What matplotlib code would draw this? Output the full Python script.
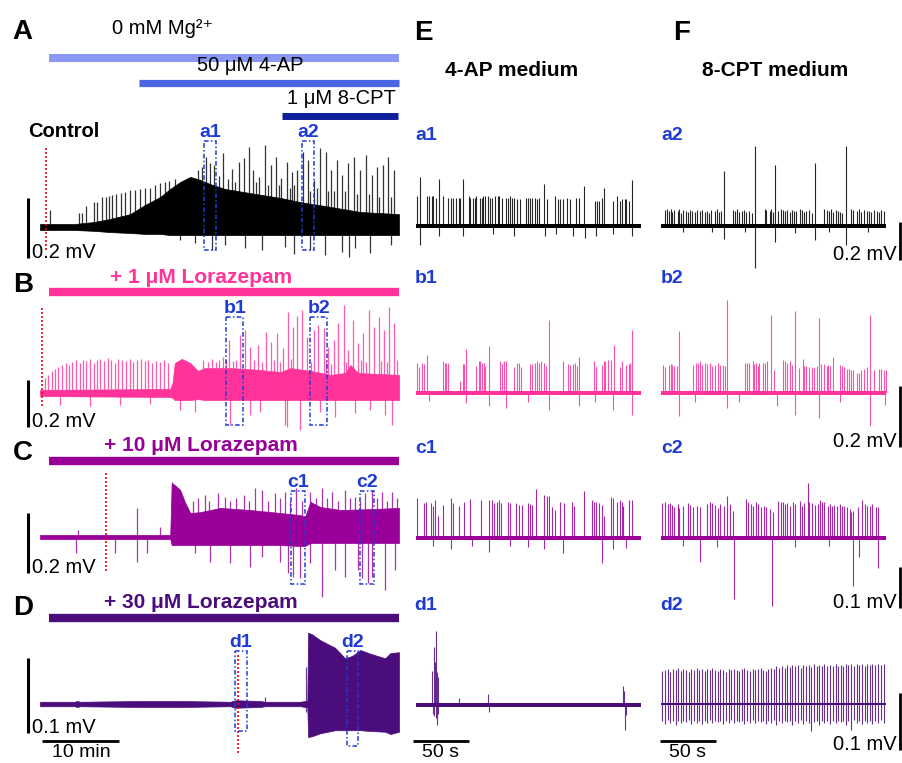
import matplotlib
matplotlib.use("Agg")
import matplotlib.pyplot as plt
from matplotlib import transforms
from matplotlib.patches import Rectangle

W, H = 902, 763

plt.rcParams["font.family"] = ["Liberation Sans", "DejaVu Sans"]

# Colours ----------------------------------------------------------------------
C_A = "#000000"
C_B = "#ff3399"
C_C = "#990099"
C_D = "#4b0c7c"
BLUE = "#1f3bd6"
RED = "#e8000b"
MG = "#8a98f2"
AP = "#4c66e3"
CPT = "#0d1f99"

# Main traces: (time min, upper mV, lower mV) envelopes + spikes (time min, mV) --

A_env = [(0, 0.01, -0.01), (4.5, 0.01, -0.01), (7.1, 0.017, -0.013), (9.1, 0.027, -0.017),
         (11.7, 0.043, -0.02), (13.6, 0.073, -0.023), (15.6, 0.1, -0.023), (16.9, 0.127, -0.027),
         (18.2, 0.15, -0.027), (19.5, 0.167, -0.027), (20.8, 0.157, -0.027), (22.1, 0.143, -0.027),
         (24.0, 0.127, -0.027), (27.3, 0.113, -0.027), (31.2, 0.097, -0.027), (33.8, 0.083, -0.027),
         (37.7, 0.067, -0.027), (41.6, 0.05, -0.027), (46.6, 0.043, -0.027)]
A_spikes = [(1.3, 0.057), (5.1, 0.047), (5.5, 0.047), (6.0, 0.07), (7.0, 0.083), (7.4, 0.083),
            (8.1, 0.1), (8.6, 0.1), (9.0, 0.103), (9.4, 0.107), (9.9, 0.11), (10.5, 0.113),
            (11.0, 0.117), (11.7, 0.123), (12.3, 0.123), (13.0, 0.127), (13.6, 0.13), (14.3, 0.13),
            (14.9, 0.14), (15.6, 0.147), (16.2, 0.15), (16.8, 0.155), (17.5, 0.16),
            (20.5, 0.19), (21.0, 0.2), (21.6, 0.233), (22.1, 0.213), (22.6, 0.207), (23.2, 0.17),
            (23.8, 0.247), (24.4, 0.16), (24.9, 0.193), (25.3, 0.15), (25.8, 0.217), (26.5, 0.23),
            (27.1, 0.267), (27.7, 0.19), (28.0, 0.15), (28.4, 0.167), (29.2, 0.273), (29.6, 0.14),
            (30.0, 0.207), (30.6, 0.233), (31.0, 0.14), (31.3, 0.163), (32.1, 0.217), (32.4, 0.13),
            (32.7, 0.183), (33.0, 0.14), (33.4, 0.19), (34.2, 0.25), (34.8, 0.223), (35.0, 0.12),
            (35.6, 0.157), (36.0, 0.13), (36.4, 0.263), (37.1, 0.25), (37.4, 0.12), (37.8, 0.19),
            (38.2, 0.12), (38.6, 0.223), (39.2, 0.173), (39.6, 0.12), (40.0, 0.213), (40.8, 0.233),
            (41.2, 0.11), (41.6, 0.19), (42.3, 0.24), (42.7, 0.11), (43.1, 0.173), (43.8, 0.2),
            (44.0, 0.1), (44.5, 0.207), (45.2, 0.233), (45.6, 0.1), (46.0, 0.19)]
A_negs = [(18.2, -0.043), (20.1, -0.053), (22.3, -0.077), (24.0, -0.06), (26.6, -0.07),
          (28.8, -0.077), (31.8, -0.067), (33.0, -0.09), (35.1, -0.077), (37.0, -0.093),
          (39.2, -0.083), (40.1, -0.1), (40.9, -0.07), (42.9, -0.087), (45.5, -0.06)]

B_env = [(0, 0.013, -0.013), (16.9, 0.017, -0.017), (17.2, 0.043, -0.021), (17.5, 0.128, -0.03),
         (18.4, 0.145, -0.03), (19.5, 0.128, -0.03), (20.5, 0.094, -0.026), (21.4, 0.106, -0.03),
         (24.7, 0.106, -0.03), (28.6, 0.098, -0.03), (31.2, 0.089, -0.03), (32.5, 0.106, -0.03),
         (35.1, 0.094, -0.03), (37.7, 0.077, -0.03), (39.6, 0.085, -0.03), (40.3, 0.119, -0.03),
         (41.3, 0.085, -0.03), (46.6, 0.077, -0.03)]
B_spikes = [(0.6, 0.064), (1.0, 0.077), (1.6, 0.094), (1.9, 0.102), (2.3, 0.111), (2.9, 0.119),
            (3.4, 0.128), (3.8, 0.119), (4.2, 0.132), (4.7, 0.14), (5.2, 0.128), (5.6, 0.14),
            (6.0, 0.136), (6.5, 0.145), (7.0, 0.128), (7.4, 0.14), (7.8, 0.145), (8.3, 0.136),
            (8.8, 0.149), (9.2, 0.14), (9.7, 0.128), (10.1, 0.145), (10.6, 0.14), (11.2, 0.136),
            (11.7, 0.145), (12.1, 0.132), (12.6, 0.14), (13.1, 0.145), (13.6, 0.136), (14.0, 0.14),
            (14.6, 0.128), (15.1, 0.136), (15.6, 0.132), (16.1, 0.14), (16.6, 0.128),
            (21.2, 0.14), (21.8, 0.13), (22.3, 0.145), (22.9, 0.13), (23.2, 0.14), (23.8, 0.153),
            (24.2, 0.14), (24.5, 0.226), (25.1, 0.135), (25.5, 0.14), (26.0, 0.247), (26.6, 0.268),
            (27.3, 0.196), (27.8, 0.14), (28.3, 0.204), (28.8, 0.13), (29.4, 0.26), (30.0, 0.217),
            (30.4, 0.14), (30.8, 0.255), (31.2, 0.13), (31.6, 0.191), (32.2, 0.345), (32.6, 0.145),
            (32.9, 0.281), (33.4, 0.328), (34.0, 0.353), (34.7, 0.238), (35.2, 0.13), (35.6, 0.268),
            (36.1, 0.289), (36.8, 0.277), (37.1, 0.14), (37.4, 0.196), (37.8, 0.125), (38.1, 0.226),
            (38.7, 0.298), (39.4, 0.374), (39.7, 0.13), (40.0, 0.183), (40.6, 0.311), (41.3, 0.213),
            (41.7, 0.14), (41.9, 0.255), (42.3, 0.13), (42.7, 0.353), (43.4, 0.281), (44.0, 0.323),
            (44.2, 0.135), (44.7, 0.268), (45.0, 0.13), (45.3, 0.366), (46.0, 0.298), (46.3, 0.14)]
B_negs = [(2.6, -0.051), (6.5, -0.055), (10.4, -0.051), (14.3, -0.047), (18.2, -0.072),
          (20.1, -0.081), (24.7, -0.136), (27.3, -0.094), (28.6, -0.081), (31.8, -0.136),
          (32.1, -0.145), (33.8, -0.157), (36.4, -0.081), (38.3, -0.102), (40.9, -0.085),
          (42.9, -0.072), (44.8, -0.094), (45.7, -0.136)]

C_env = [(0, 0.007, -0.007), (16.9, 0.007, -0.007), (17.1, 0.18, -0.027), (17.5, 0.173, -0.027),
         (18.2, 0.157, -0.027), (18.8, 0.117, -0.027), (19.5, 0.08, -0.027), (20.8, 0.083, -0.027),
         (23.4, 0.097, -0.027), (27.3, 0.09, -0.027), (31.2, 0.08, -0.027), (33.8, 0.073, -0.03),
         (34.4, 0.067, -0.03), (35.1, 0.117, -0.02), (36.4, 0.1, -0.02), (39.0, 0.09, -0.02),
         (42.9, 0.093, -0.02), (46.6, 0.097, -0.02)]
C_spikes = [(4.9, 0.023), (12.6, 0.097), (15.6, 0.033), (17.1, 0.183), (19.9, 0.12), (20.5, 0.13),
            (21.4, 0.14), (21.9, 0.12), (23.1, 0.147), (24.0, 0.133), (24.7, 0.12), (25.5, 0.13),
            (26.5, 0.14), (27.1, 0.12), (27.9, 0.163), (28.8, 0.157), (29.6, 0.12), (30.5, 0.147),
            (31.2, 0.13), (31.8, 0.15), (32.5, 0.12), (33.2, 0.163), (34.0, 0.12), (35.1, 0.15),
            (35.8, 0.13), (36.6, 0.163), (37.2, 0.13), (37.9, 0.15), (38.7, 0.12), (39.6, 0.157),
            (40.3, 0.13), (40.9, 0.133), (41.5, 0.12), (42.2, 0.147), (43.1, 0.157), (43.8, 0.13),
            (44.4, 0.15), (45.0, 0.12), (45.7, 0.15), (46.3, 0.13)]
C_negs = [(4.7, -0.053), (9.7, -0.053), (12.6, -0.083), (13.9, -0.053), (20.1, -0.053),
          (22.1, -0.083), (24.7, -0.087), (27.3, -0.1), (28.8, -0.067), (31.2, -0.083),
          (32.2, -0.12), (32.9, -0.133), (33.8, -0.137), (35.1, -0.087), (36.6, -0.2),
          (38.3, -0.11), (39.6, -0.133), (41.3, -0.11), (41.8, -0.137), (42.6, -0.153),
          (43.1, -0.133), (44.8, -0.177), (46.1, -0.11)]

D_env = [(0, 0.003, -0.003), (4.5, 0.003, -0.003), (4.8, 0.004, -0.004), (5.2, 0.003, -0.003),
         (13.0, 0.004, -0.004), (18.2, 0.004, -0.004), (24.7, 0.003, -0.003), (25.3, 0.005, -0.005),
         (28.6, 0.004, -0.004), (29.2, 0.003, -0.003), (33.8, 0.003, -0.003), (34.4, 0.004, -0.004),
         (34.7, 0.004, -0.004), (34.8, 0.095, -0.044), (35.3, 0.093, -0.043), (36.4, 0.085, -0.039),
         (38.3, 0.075, -0.035), (39.6, 0.061, -0.035), (40.5, 0.064, -0.035), (41.6, 0.072, -0.035),
         (42.9, 0.067, -0.036), (44.8, 0.061, -0.037), (45.5, 0.068, -0.04), (46.6, 0.069, -0.037)]
D_spikes = [(29.2, 0.009), (34.5, 0.049)]
D_negs = [(34.5, -0.01)]

# drug onset (red dotted) and inset windows, minutes
red_times = [0.8, 0.26, 8.6, 25.7]
win_a = [(21.3, 22.9, "a1"), (34.0, 35.6, "a2")]
win_b = [(24.2, 26.4, "b1"), (35.1, 37.3, "b2")]
win_c = [(32.6, 34.4, "c1"), (41.6, 43.4, "c2")]
win_d = [(25.3, 26.9, "d1"), (39.9, 41.3, "d2")]

# Insets: spikes (time s, mV) --------------------------------------------------

a1_spikes = [(1, 0.16), (4, 0.26), (10, 0.16), (12, 0.16), (14, 0.16), (15, 0.16), (18, 0.15),
             (21, 0.25), (24, 0.16), (29, 0.15), (31, 0.15), (33, 0.15), (36, 0.15), (38, 0.15),
             (39, 0.15), (42, 0.25), (47, 0.16), (48, 0.15), (51, 0.15), (53, 0.15), (54, 0.16),
             (57, 0.15), (59, 0.15), (60, 0.16), (62, 0.16), (64, 0.16), (66, 0.15), (68, 0.15),
             (71, 0.16), (73, 0.16), (74, 0.16), (77, 0.15), (80, 0.15), (82, 0.15), (84, 0.16),
             (86, 0.15), (88, 0.15), (90, 0.14), (93, 0.14), (98, 0.15), (100, 0.15), (102, 0.15),
             (104, 0.15), (106, 0.15), (108, 0.14), (110, 0.15), (114, 0.22), (117, 0.14),
             (124, 0.16), (127, 0.14), (129, 0.14), (131, 0.14), (135, 0.15), (138, 0.14),
             (143, 0.15), (146, 0.15), (150, 0.21), (160, 0.13), (162, 0.13), (164, 0.13),
             (166, 0.15), (168, 0.2), (176, 0.13), (180, 0.16), (182, 0.13), (184, 0.14),
             (187, 0.14), (188, 0.14), (190, 0.13), (193, 0.24)]
a1_negs = [(4, -0.1), (21, -0.05), (42, -0.05), (69, -0.04), (88, -0.05), (115, -0.05),
           (125, -0.04), (140, -0.05), (151, -0.065), (161, -0.05), (176, -0.04), (193, -0.05)]

a2_spikes = [(4, 0.085), (5, 0.09), (7, 0.08), (9, 0.09), (10, 0.075), (12, 0.085), (15, 0.08),
             (16, 0.09), (18, 0.07), (20, 0.085), (22, 0.08), (24, 0.075), (26, 0.085), (28, 0.08),
             (30, 0.075), (32, 0.085), (35, 0.08), (37, 0.085), (39, 0.075), (41, 0.08), (43, 0.07),
             (45, 0.085), (48, 0.08), (50, 0.09), (52, 0.075), (54, 0.08), (56, 0.29), (64, 0.085),
             (66, 0.08), (68, 0.09), (70, 0.075), (72, 0.08), (74, 0.085), (76, 0.075), (79, 0.08),
             (81, 0.07), (84, 0.42), (93, 0.09), (94, 0.085), (97, 0.08), (98, 0.09), (100, 0.075),
             (102, 0.32), (105, 0.08), (107, 0.09), (109, 0.085), (111, 0.08), (113, 0.085),
             (115, 0.075), (117, 0.085), (119, 0.08), (121, 0.08), (124, 0.09), (126, 0.085),
             (128, 0.075), (130, 0.08), (132, 0.085), (135, 0.07), (138, 0.33), (146, 0.09),
             (148, 0.085), (150, 0.08), (152, 0.09), (154, 0.075), (156, 0.085), (158, 0.08),
             (160, 0.075), (162, 0.07), (165, 0.42), (170, 0.09), (172, 0.085), (175, 0.08),
             (177, 0.09), (179, 0.075), (181, 0.085), (184, 0.08), (186, 0.08), (188, 0.075),
             (190, 0.085), (193, 0.08), (195, 0.075), (197, 0.085), (199, 0.08)]
a2_negs = [(56, -0.067), (84, -0.22), (102, -0.084), (138, -0.075), (165, -0.1), (20, -0.03),
           (46, -0.03), (75, -0.03), (120, -0.035), (150, -0.03), (185, -0.03)]

b1_spikes = [(1, 0.098), (3, 0.085), (5, 0.098), (7, 0.096), (10, 0.126), (24, 0.104), (26, 0.098),
             (27, 0.098), (29, 0.098), (39, 0.038), (42, 0.096), (43, 0.096), (45, 0.144),
             (54, 0.09), (56, 0.104), (57, 0.104), (59, 0.1), (61, 0.098), (62, 0.09), (65, 0.153),
             (75, 0.104), (77, 0.096), (79, 0.104), (80, 0.104), (88, 0.085), (90, 0.098),
             (92, 0.098), (94, 0.085), (102, 0.096), (104, 0.096), (106, 0.1), (108, 0.104),
             (110, 0.1), (112, 0.104), (114, 0.098), (116, 0.09), (119, 0.24), (131, 0.104),
             (136, 0.096), (138, 0.093), (140, 0.096), (142, 0.098), (144, 0.09), (146, 0.118),
             (159, 0.104), (161, 0.085), (166, 0.093), (168, 0.104), (169, 0.104), (172, 0.109),
             (174, 0.109), (177, 0.158), (182, 0.085), (184, 0.104), (188, 0.093), (190, 0.096),
             (191, 0.098), (193, 0.208)]
b1_negs = [(45, -0.033), (65, -0.042), (80, -0.049), (119, -0.055), (146, -0.042), (176, -0.055),
           (193, -0.071), (12, -0.025), (100, -0.03), (160, -0.03)]

b2_spikes = [(2, 0.093), (4, 0.085), (7, 0.093), (9, 0.096), (10, 0.093), (12, 0.09), (14, 0.087),
             (16, 0.202), (29, 0.093), (31, 0.098), (33, 0.1), (35, 0.104), (37, 0.093), (39, 0.098),
             (41, 0.096), (44, 0.098), (46, 0.087), (48, 0.093), (51, 0.098), (53, 0.093),
             (55, 0.093), (57, 0.09), (59, 0.304), (75, 0.098), (77, 0.098), (79, 0.1), (82, 0.104),
             (83, 0.096), (85, 0.1), (87, 0.09), (88, 0.098), (91, 0.1), (93, 0.098), (95, 0.104),
             (98, 0.257), (101, 0.077), (109, 0.109), (111, 0.104), (113, 0.098), (115, 0.104),
             (117, 0.093), (120, 0.268), (123, 0.082), (127, 0.111), (128, 0.09), (130, 0.09),
             (132, 0.085), (135, 0.085), (137, 0.082), (139, 0.09), (141, 0.246), (143, 0.096),
             (146, 0.096), (148, 0.09), (149, 0.093), (151, 0.09), (154, 0.118), (160, 0.093),
             (162, 0.09), (164, 0.085), (166, 0.079), (168, 0.079), (170, 0.077), (172, 0.077),
             (175, 0.066), (177, 0.066), (179, 0.074), (181, 0.079), (184, 0.085), (187, 0.257),
             (190, 0.077), (195, 0.079), (197, 0.079), (199, 0.074), (201, 0.077)]
b2_negs = [(16, -0.077), (59, -0.049), (104, -0.044), (120, -0.071), (141, -0.082), (187, -0.109),
           (200, -0.038), (30, -0.03), (70, -0.03), (160, -0.03)]

c1_spikes = [(1, 0.098), (7, 0.085), (9, 0.089), (13, 0.085), (15, 0.077), (17, 0.092), (20, 0.054),
             (24, 0.081), (31, 0.098), (33, 0.085), (38, 0.079), (43, 0.089), (48, 0.095),
             (58, 0.092), (65, 0.093), (68, 0.093), (70, 0.085), (72, 0.089), (74, 0.093),
             (76, 0.085), (82, 0.087), (84, 0.085), (89, 0.085), (92, 0.081), (95, 0.081),
             (100, 0.085), (102, 0.084), (104, 0.081), (107, 0.12), (114, 0.106), (117, 0.103),
             (119, 0.102), (122, 0.076), (124, 0.069), (129, 0.089), (132, 0.085), (139, 0.087),
             (141, 0.077), (150, 0.114), (157, 0.093), (159, 0.089), (161, 0.087), (164, 0.085),
             (166, 0.081), (168, 0.053), (174, 0.1), (176, 0.098), (180, 0.089), (182, 0.093),
             (184, 0.087), (185, 0.079), (190, 0.093), (193, 0.093)]
c1_negs = [(15, -0.02), (31, -0.028), (65, -0.033), (84, -0.02), (114, -0.028), (131, -0.037),
           (166, -0.061), (176, -0.028), (188, -0.024), (50, -0.02), (100, -0.022)]

c2_spikes = [(1, 0.085), (4, 0.087), (6, 0.083), (8, 0.085), (10, 0.081), (12, 0.075), (15, 0.083),
             (16, 0.073), (20, 0.079), (24, 0.085), (26, 0.081), (29, 0.075), (32, 0.079),
             (35, 0.075), (41, 0.083), (44, 0.087), (46, 0.085), (48, 0.081), (51, 0.073),
             (53, 0.083), (56, 0.079), (59, 0.103), (62, 0.083), (64, 0.067), (76, 0.095),
             (78, 0.089), (80, 0.083), (82, 0.079), (85, 0.087), (87, 0.083), (89, 0.076),
             (92, 0.079), (94, 0.075), (97, 0.071), (100, 0.063), (105, 0.091), (107, 0.089),
             (109, 0.087), (111, 0.083), (113, 0.085), (115, 0.079), (118, 0.087), (120, 0.083),
             (124, 0.091), (126, 0.079), (128, 0.085), (131, 0.133), (132, 0.087), (135, 0.085),
             (138, 0.081), (140, 0.083), (142, 0.093), (144, 0.087), (146, 0.087), (149, 0.079),
             (151, 0.083), (153, 0.079), (155, 0.081), (157, 0.079), (160, 0.083), (162, 0.079),
             (164, 0.079), (166, 0.075), (169, 0.071), (170, 0.063), (172, 0.067), (176, 0.075),
             (180, 0.093), (182, 0.083), (184, 0.079), (187, 0.079), (189, 0.083), (192, 0.075),
             (194, 0.075)]
c2_negs = [(35, -0.059), (65, -0.149), (99, -0.167), (172, -0.116), (177, -0.047), (194, -0.072),
           (20, -0.02), (50, -0.022), (120, -0.022), (150, -0.02)]

d1_spikes = [(14.5, 0.06), (16, 0.102), (17, 0.075), (18, 0.129), (19, 0.058), (20, 0.05),
             (38, 0.013), (64, 0.02), (185, 0.033), (186, 0.024)]
d1_negs = [(15, -0.015), (16.5, -0.02), (17.5, -0.023), (18.5, -0.035), (19.5, -0.015),
           (65, -0.012), (187, -0.043), (188, -0.018)]

# d2: (time s, peak mV, trough mV)
d2_spikes = [(1, 0.058, -0.03), (3.5, 0.06, -0.035), (6, 0.062, -0.028), (8, 0.057, -0.033),
             (10.5, 0.061, -0.03), (13, 0.059, -0.036), (15, 0.063, -0.029), (17.5, 0.058, -0.034),
             (20, 0.061, -0.03), (22.5, 0.06, -0.032), (25, 0.057, -0.028), (27, 0.062, -0.035),
             (29.5, 0.059, -0.03), (32, 0.063, -0.033), (34, 0.06, -0.029), (36.5, 0.062, -0.035),
             (39, 0.058, -0.03), (41.5, 0.061, -0.033), (44, 0.059, -0.028), (46, 0.063, -0.034),
             (48.5, 0.06, -0.03), (51, 0.058, -0.032), (53, 0.062, -0.029), (55.5, 0.06, -0.035),
             (58, 0.057, -0.03), (60.5, 0.061, -0.033), (63, 0.059, -0.028), (65, 0.062, -0.034),
             (67.5, 0.06, -0.03), (70, 0.058, -0.032), (72, 0.061, -0.029), (74.5, 0.063, -0.035),
             (77, 0.06, -0.03), (79.5, 0.058, -0.033), (82, 0.062, -0.028), (84, 0.059, -0.034),
             (86.5, 0.061, -0.03), (89, 0.063, -0.032), (91.5, 0.06, -0.029), (94, 0.058, -0.035),
             (96, 0.062, -0.03), (98.5, 0.064, -0.033), (101, 0.061, -0.028), (103, 0.066, -0.036),
             (105.5, 0.063, -0.03), (108, 0.067, -0.034), (110.5, 0.064, -0.03), (113, 0.068, -0.032),
             (115, 0.065, -0.029), (117.5, 0.069, -0.036), (120, 0.066, -0.03), (122.5, 0.068, -0.033),
             (125, 0.064, -0.028), (127, 0.069, -0.035), (129.5, 0.066, -0.03), (132, 0.068, -0.034),
             (134, 0.065, -0.048), (136.5, 0.07, -0.032), (139, 0.066, -0.029), (141.5, 0.069, -0.036),
             (144, 0.067, -0.03), (146, 0.07, -0.034), (148.5, 0.066, -0.03), (151, 0.069, -0.035),
             (153.5, 0.067, -0.03), (156, 0.07, -0.034), (158, 0.066, -0.03), (160.5, 0.069, -0.032),
             (163, 0.067, -0.029), (165, 0.071, -0.036), (167.5, 0.068, -0.03), (170, 0.07, -0.045),
             (172.5, 0.067, -0.028), (175, 0.071, -0.034), (177, 0.068, -0.03), (179.5, 0.07, -0.035),
             (182, 0.067, -0.03), (184.5, 0.071, -0.033), (187, 0.069, -0.029), (189, 0.07, -0.035),
             (191.5, 0.068, -0.03), (194, 0.071, -0.033), (196.5, 0.069, -0.028), (199, 0.07, -0.034)]

# Geometry ---------------------------------------------------------------------

MAIN_T = 46.6        # minutes shown in A-D
MAIN_X0, MAIN_X1 = 40, 399
INSET_T = 202        # seconds shown in E/F
E_X0, F_X0, INSET_W = 416, 661, 226

fig = plt.figure(figsize=(W / 100, H / 100), dpi=100)
ov = fig.add_axes([0, 0, 1, 1], zorder=10)
ov.set_xlim(0, W)
ov.set_ylim(H, 0)
ov.axis("off")


def trace_ax(x0, x1, tmax, base, k, up=140, down=90):
    ax = fig.add_axes([x0 / W, 1 - (base + down) / H, (x1 - x0) / W, (up + down) / H])
    ax.set_xlim(0, tmax)
    ax.set_ylim(-down / k, up / k)
    ax.axis("off")
    return ax


def draw_spikes(ax, spikes, color, lw=0.8, alpha=0.85):
    ax.vlines([s[0] for s in spikes], 0, [s[1] for s in spikes], color=color, lw=lw, alpha=alpha)


def draw_main(ax, env, spikes, negs, color):
    t = [e[0] for e in env]
    ax.fill_between(t, [e[2] for e in env], [e[1] for e in env], color=color, lw=0.5, ec=color)
    draw_spikes(ax, spikes, color, lw=0.9, alpha=0.8)
    draw_spikes(ax, negs, color, lw=0.9, alpha=0.8)


def draw_inset(ax, spikes, negs, color, noise):
    ax.fill_between([0, INSET_T - 1], [-noise, -noise], [noise, noise], color=color, lw=0)
    draw_spikes(ax, spikes, color)
    draw_spikes(ax, negs, color)


def blend(ax):
    return transforms.blended_transform_factory(ax.transData, ov.transData)


def red_line(ax, t, y0, y1):
    ax.plot([t, t], [y0, y1], transform=blend(ax), color=RED, lw=1.2, ls=(0, (1.2, 1.2)),
            clip_on=False, zorder=6)


def window_boxes(ax, wins, y0, y1):
    for t0, t1, lab in wins:
        ax.add_patch(Rectangle((t0, y0), t1 - t0, y1 - y0, transform=blend(ax), fill=False,
                               ec=BLUE, lw=1.1, ls=(0, (3, 1.5, 1, 1.5)), clip_on=False, zorder=7))
        ax.text((t0 + t1) / 2, y0 - 4, lab, transform=blend(ax), ha="center", va="baseline",
                color=BLUE, fontsize=14, fontweight="bold")


# Main traces A-D -----------------------------------------------------------------
ax_a = trace_ax(MAIN_X0, MAIN_X1, MAIN_T, 227, 300)
draw_main(ax_a, A_env, A_spikes, A_negs, C_A)
red_line(ax_a, red_times[0], 148, 250)
window_boxes(ax_a, win_a, 141, 250)

ax_b = trace_ax(MAIN_X0, MAIN_X1, MAIN_T, 393, 235)
draw_main(ax_b, B_env, B_spikes, B_negs, C_B)
red_line(ax_b, red_times[1], 308, 407)
window_boxes(ax_b, win_b, 317, 425)

ax_c = trace_ax(MAIN_X0, MAIN_X1, MAIN_T, 537, 300)
draw_main(ax_c, C_env, C_spikes, C_negs, C_C)
red_line(ax_c, red_times[2], 473, 573)
window_boxes(ax_c, win_c, 491, 584)

ax_d = trace_ax(MAIN_X0, MAIN_X1, MAIN_T, 704, 750)
draw_main(ax_d, D_env, D_spikes, D_negs, C_D)
window_boxes(ax_d, win_d[:1], 651, 731)
window_boxes(ax_d, win_d[1:], 651, 746)
red_line(ax_d, red_times[3], 655, 753)

# Insets E/F ------------------------------------------------------------------
for x0, spikes, negs in [(E_X0, a1_spikes, a1_negs), (F_X0, a2_spikes, a2_negs)]:
    draw_inset(trace_ax(x0, x0 + INSET_W, INSET_T, 226, 190), spikes, negs, C_A, 0.009)
for x0, spikes, negs in [(E_X0, b1_spikes, b1_negs), (F_X0, b2_spikes, b2_negs)]:
    draw_inset(trace_ax(x0, x0 + INSET_W, INSET_T, 393, 305), spikes, negs, C_B, 0.008)
for x0, spikes, negs in [(E_X0, c1_spikes, c1_negs), (F_X0, c2_spikes, c2_negs)]:
    draw_inset(trace_ax(x0, x0 + INSET_W, INSET_T, 538, 410), spikes, negs, C_C, 0.006)
ax_d1 = trace_ax(E_X0, E_X0 + INSET_W, INSET_T, 705, 570)
draw_inset(ax_d1, d1_spikes, d1_negs, C_D, 0.004)
ax_d2 = trace_ax(F_X0, F_X0 + INSET_W, INSET_T, 704, 570)
ax_d2.fill_between([0, INSET_T - 1], [-0.002, -0.002], [0.002, 0.002], color=C_D, lw=0)
ax_d2.vlines([s[0] for s in d2_spikes], [s[2] for s in d2_spikes], [s[1] for s in d2_spikes],
             color=C_D, lw=0.8, alpha=0.85)

# Drug bars and labels ----------------------------------------------------------
ov.plot([49, 399], [58, 58], color=MG, lw=5.8, solid_capstyle="butt")
ov.plot([139, 399], [82.5, 82.5], color=AP, lw=5.2, solid_capstyle="butt")
ov.plot([282, 398], [116, 116], color=CPT, lw=5.0, solid_capstyle="butt")
ov.text(163, 34, "0 mM Mg\u00b2\u207a", ha="center", va="baseline", fontsize=14.5)
ov.text(250, 71, "50 \u03bcM 4-AP", ha="center", va="baseline", fontsize=14.5)
ov.text(341, 104, "1 \u03bcM 8-CPT", ha="center", va="baseline", fontsize=14.5)
ov.text(28, 137, "Control", ha="left", va="baseline", fontsize=14.5, fontweight="bold")

for yb, yt, col, lab in [(292, 283, C_B, "+ 1 \u03bcM Lorazepam"),
                         (461, 451, C_C, "+ 10 \u03bcM Lorazepam"),
                         (618, 608, C_D, "+ 30 \u03bcM Lorazepam")]:
    ov.plot([49, 399], [yb, yb], color=col, lw=6.0, solid_capstyle="butt")
    ov.text(201, yt, lab, ha="center", va="baseline", fontsize=15, fontweight="bold", color=col)

# Panel letters and column titles
for x, y, s in [(22, 39, "A"), (23, 292, "B"), (23, 460, "C"), (23, 615, "D"),
                (423, 40, "E"), (682, 40, "F")]:
    ov.text(x, y, s, ha="center", va="baseline", fontsize=20, fontweight="bold")
ov.text(512, 76, "4-AP medium", ha="center", va="baseline", fontsize=15, fontweight="bold")
ov.text(775, 76, "8-CPT medium", ha="center", va="baseline", fontsize=15, fontweight="bold")

for x, y, lab in [(426, 140, "a1"), (672, 140, "a2"), (426, 283, "b1"), (672, 283, "b2"),
                  (426, 453, "c1"), (672, 453, "c2"), (426, 610, "d1"), (672, 610, "d2")]:
    ov.text(x, y, lab, ha="center", va="baseline", color=BLUE, fontsize=14, fontweight="bold")

# Scale bars ---------------------------------------------------------------------
for top, k, amp in [(198, 300, 0.2), (380, 235, 0.2), (513, 300, 0.2), (658, 750, 0.1)]:
    ov.plot([28, 28], [top, top + amp * k], color="black", lw=2.2, solid_capstyle="butt")
    ov.text(32, top + amp * k, f"{amp} mV", ha="left", va="baseline", fontsize=14.5)
ov.plot([42, 42 + 10 * (MAIN_X1 - MAIN_X0) / MAIN_T], [741, 741], color="black", lw=2.0,
        solid_capstyle="butt")
ov.text(81, 757, "10 min", ha="center", va="baseline", fontsize=14)

px_per_s = INSET_W / INSET_T
for x0 in (413, 660):
    ov.plot([x0, x0 + 50 * px_per_s], [741, 741], color="black", lw=2.0, solid_capstyle="butt")
    ov.text(x0 + 25 * px_per_s, 757, "50 s", ha="center", va="baseline", fontsize=14)

for top, k, amp in [(222, 190, 0.2), (386, 305, 0.2), (567, 410, 0.1), (693, 570, 0.1)]:
    ov.plot([900, 900], [top, top + amp * k], color="black", lw=2.0, solid_capstyle="butt")
    ov.text(897, top + amp * k, f"{amp} mV", ha="right", va="baseline", fontsize=14.5)

fig.savefig("out.png", dpi=100)
